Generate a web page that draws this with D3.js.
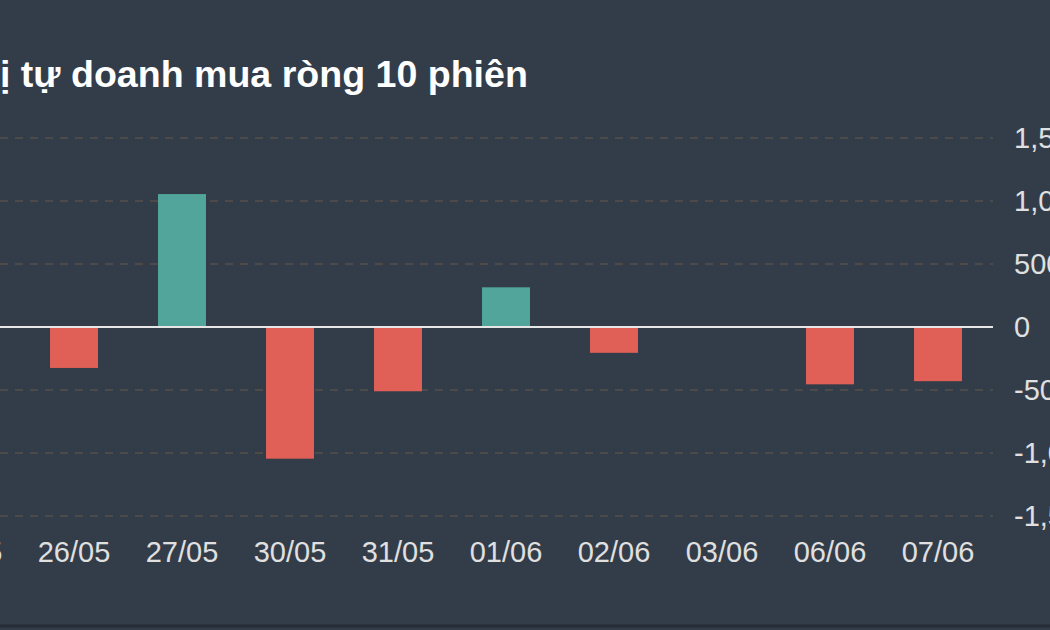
<!DOCTYPE html>
<html><head><meta charset="utf-8">
<script src="https://cdn.jsdelivr.net/npm/d3@7"></script>
<style>html,body{margin:0;padding:0;background:#333d4a;overflow:hidden}</style>
</head><body>
<svg id="c" width="1050" height="630"></svg>
<script>
const title = "Giá trị tự doanh mua ròng 10 phiên";
const categories = ["25/05","26/05","27/05","30/05","31/05","01/06","02/06","03/06","06/06","07/06"];
const values = [-200,-325,1055,-1045,-510,315,-205,-5,-455,-430];
const yTicks = [-1500,-1000,-500,0,500,1000,1500];

const svg = d3.select("#c");
const font = "Helvetica, Arial, 'Liberation Sans', sans-serif";
svg.append("rect").attr("width",1050).attr("height",630).attr("fill","#333d4a");
svg.append("line").attr("x1",0).attr("x2",1050).attr("y1",626).attr("y2",626).attr("stroke","#262d36").attr("stroke-width",3);

const x = d3.scaleBand().domain(categories).range([-88,992]).padding(0);
const y = d3.scaleLinear().domain([-1500,1500]).range([516,138]);
const bw = x.bandwidth()*0.444;

const fmt = d => d3.format(",")(d).replace("\u2212","-");
// grid
svg.append("g").selectAll("line").data(yTicks.filter(d=>d!==0)).join("line")
  .attr("x1",0).attr("x2",993).attr("y1",d=>y(d)).attr("y2",d=>y(d))
  .attr("stroke","#57504a").attr("stroke-width",1.5).attr("stroke-dasharray","8,7");

// bars
svg.append("g").selectAll("rect").data(values).join("rect")
  .attr("x",(d,i)=>x(categories[i])+(x.bandwidth()-bw)/2)
  .attr("width",bw)
  .attr("y",d=>y(Math.max(0,d)))
  .attr("height",d=>Math.max(1,Math.abs(y(d)-y(0))))
  .attr("fill",d=>d>=0?"#52a59a":"#e05f57");

// zero line
svg.append("line").attr("x1",0).attr("x2",993).attr("y1",y(0)).attr("y2",y(0)).attr("stroke","#e6e6e6").attr("stroke-width",2);

// y axis right
const ya = d3.axisRight(y).tickValues(yTicks).tickFormat(fmt).tickSize(0).tickPadding(0);
const gy = svg.append("g").attr("transform","translate(1014,0)").call(ya);
gy.select(".domain").remove();
gy.selectAll("text").attr("fill","#e0e0e0").attr("font-size",29).attr("font-family",font);

// x axis
const xa = d3.axisBottom(x).tickSize(0).tickPadding(0);
const gx = svg.append("g").attr("transform","translate(0,541)").call(xa);
gx.select(".domain").remove();
gx.selectAll("text").attr("fill","#e0e0e0").attr("font-size",29).attr("font-family",font).attr("dy","0.71em");

// title: place so that "ị" starts at the left edge and text ends at ~528
const t = svg.append("text").attr("y",87)
  .attr("fill","#ffffff").attr("font-size",30).attr("font-weight","bold").attr("font-family",font).text(title);
const node = t.node();
const k = title.indexOf("ị");
const pre = node.getSubStringLength(0,k);
const rest = node.getComputedTextLength()-pre;
const fs = 30*528/rest;
t.attr("font-size",fs);
const pre2 = node.getSubStringLength(0,k);
t.attr("x",-pre2);
</script>
</body></html>
